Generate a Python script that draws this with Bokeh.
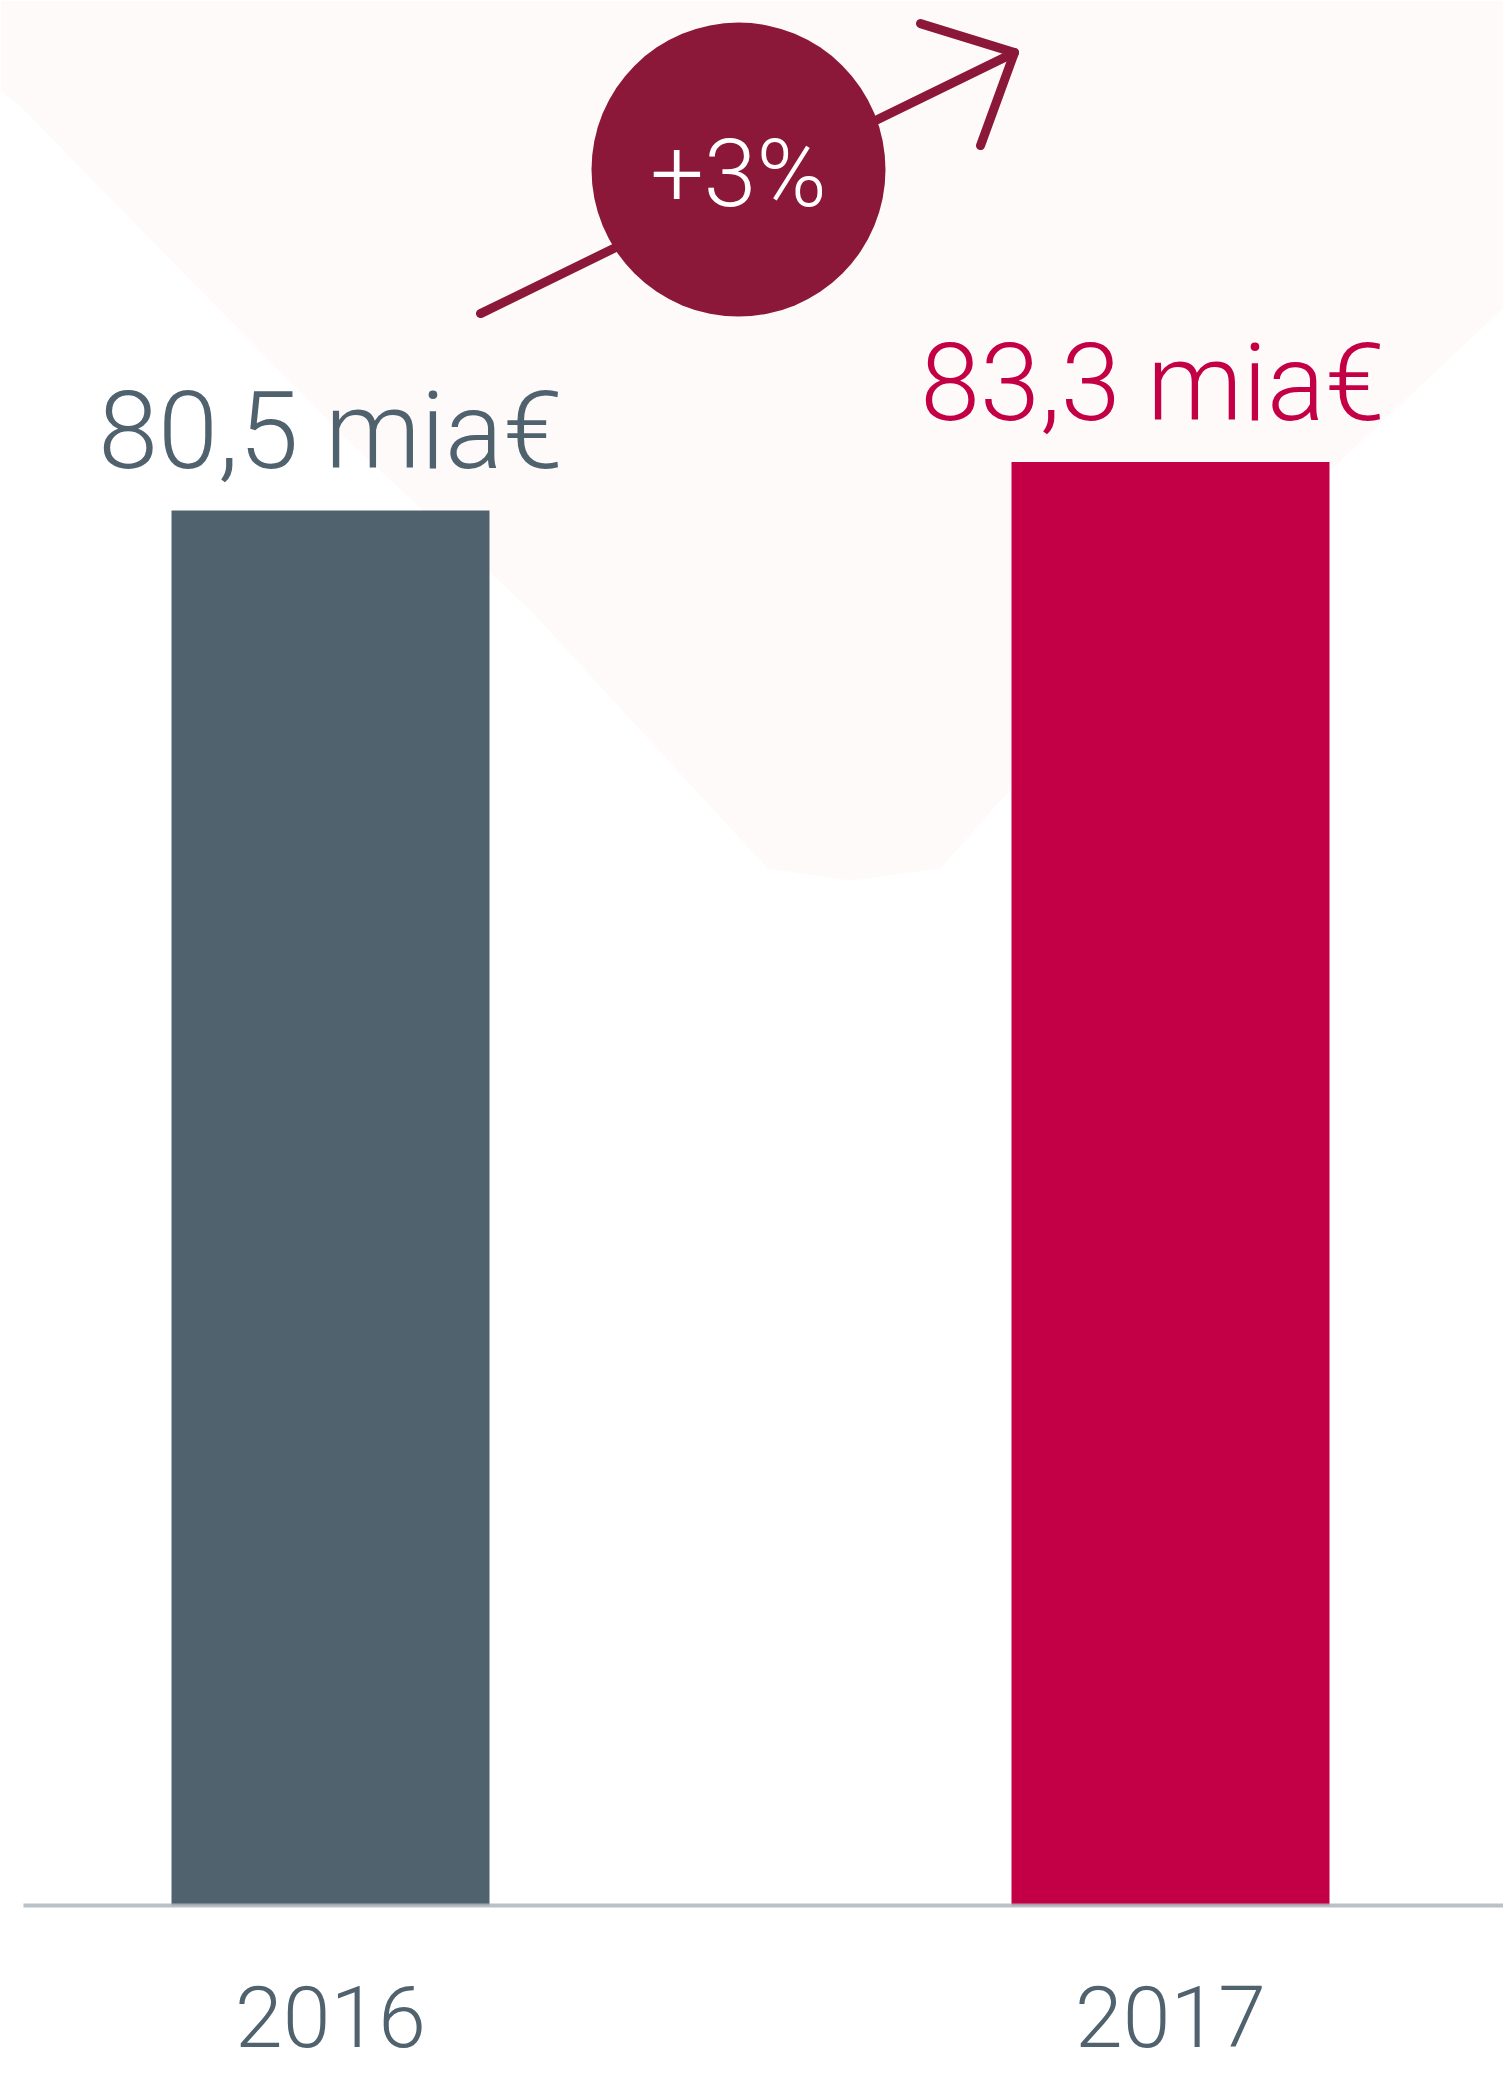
from bokeh.plotting import figure
from bokeh.models import ColumnDataSource, Range1d
from bokeh.core.properties import value
from bokeh.embed import file_html
from bokeh.resources import INLINE

# ---- data ----
years = ["2016", "2017"]
revenue = [80.5, 83.3]          # milliards d'euros
bar_colors = ["#51626f", "#c30045"]

# ---- layout constants (pixels) ----
W, H = 1503, 2067
PX_X = 840.0                     # pixels per category step
PX_Y = 17.33                     # pixels per unit of value
X0_PX = 330                      # pixel position of first category
Y0_PX = 1905                     # pixel position of value 0 (from top)
LABEL_DX = [0, -18]              # horizontal nudge of the value labels

FONT = value("Roboto Light, Lato Light, Roboto")

p = figure(width=W, height=H, output_backend="svg", toolbar_location=None,
           x_range=Range1d(-X0_PX / PX_X, (W - X0_PX) / PX_X),
           y_range=Range1d(-(H - Y0_PX) / PX_Y, Y0_PX / PX_Y),
           min_border=0, outline_line_color=None)
p.axis.visible = False
p.grid.visible = False
p.background_fill_color = "white"
p.border_fill_color = "white"


def px(sx, sy):
    """screen pixel -> data coords"""
    return (sx - X0_PX) / PX_X, (Y0_PX - sy) / PX_Y


# faint background blob (decoration)
blob_px = [(0, 0), (1511, 0), (1511, 300), (1333, 467), (1000, 800), (940, 868),
           (850, 880), (767, 868), (529, 609), (344, 437), (20, 106), (0, 90)]
bx, by = zip(*[px(a, b) for a, b in blob_px])
p.patch(list(bx), list(by), fill_color="#fefaf9", line_color=None, level="underlay")

idx = list(range(len(years)))
src = ColumnDataSource(dict(
    x=idx, top=revenue, color=bar_colors, year=years, dx=LABEL_DX,
    label=[f"{v:.1f}".replace(".", ",") + " mia€" for v in revenue],
))

p.vbar(x="x", top="top", bottom=0, width=318 / PX_X, fill_color="color",
       line_color=None, source=src)

# baseline (starts a little inside the left edge)
p.segment(x0=[px(23, 0)[0]], x1=[px(W, 0)[0]], y0=[0], y1=[0],
          line_color="#aeb7be", line_width=4, line_alpha=0.85, level="overlay")

# value labels
p.text(x="x", y="top", text="label", text_color="color", source=src,
       text_font=FONT, text_font_size="108px", text_align="center",
       text_baseline="alphabetic", y_offset=-79, x_offset="dx")

# year labels
p.text(x="x", y=0, text="year", text_color="#51626f", source=src,
       text_font=FONT, text_font_size="86px", text_align="center",
       text_baseline="alphabetic", y_offset=111)

# growth badge
growth = round((revenue[1] / revenue[0] - 1) * 100)
cx = (idx[0] + idx[1]) / 2 - 12 / PX_X
cy = max(revenue) * 1.2025


def off(dx, dy):
    return cx + dx / PX_X, cy - dy / PX_Y


s = off(-258, 144)
t = off(276, -117)
w1 = off(276 - 94, -117 - 29)
w2 = off(276 - 34, -117 + 93)
p.multi_line(xs=[[s[0], t[0]], [w1[0], t[0], w2[0]]],
             ys=[[s[1], t[1]], [w1[1], t[1], w2[1]]],
             line_color="#8b1838", line_width=9, line_cap="round", line_join="round")

p.scatter(x=[cx], y=[cy], size=294, marker="circle", fill_color="#8b1838",
          line_color=None)
p.text(x=[cx], y=[cy], text=[f"+{growth}%"], text_color="white",
       text_font=FONT, text_font_size="95px", text_align="center",
       text_baseline="alphabetic", y_offset=4)

open("out.html", "w").write(file_html(p, INLINE))
